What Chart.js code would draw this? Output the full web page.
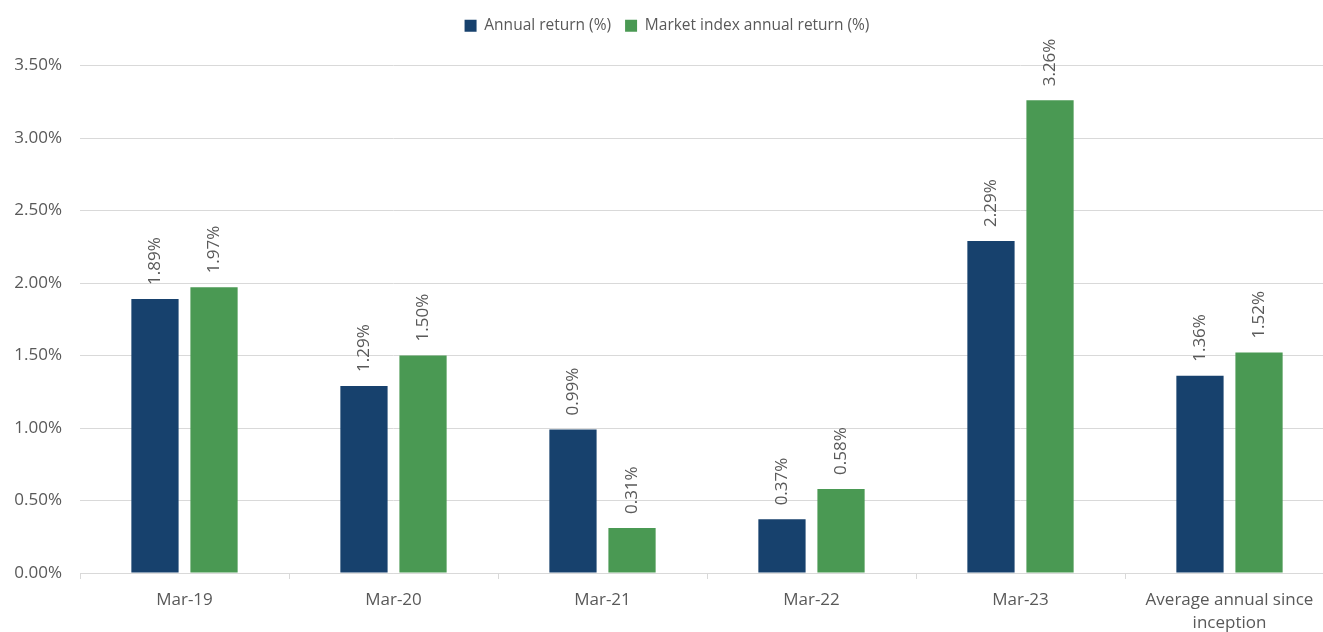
<!DOCTYPE html>
<html>
<head>
<meta charset="utf-8">
<script src="https://cdn.jsdelivr.net/npm/chart.js@4/dist/chart.umd.min.js"></script>
<style>
  body { margin: 0; background: #fff; overflow: hidden; }
  #wrap { width: 1336px; height: 632px; }
</style>
</head>
<body>
<div id="wrap"><canvas id="returnsChart" width="1336" height="632"></canvas></div>
<script>
const categories = ['Mar-19', 'Mar-20', 'Mar-21', 'Mar-22', 'Mar-23', ['Average annual since', 'inception']];
const annualReturn = [1.89, 1.29, 0.99, 0.37, 2.29, 1.36];
const marketReturn = [1.97, 1.50, 0.31, 0.58, 3.26, 1.52];
const seriesNames = ['Annual return (%)', 'Market index annual return (%)'];

const FONT = '"Open Sans", Lato, sans-serif';
const GREY = '#595959';

// rotated value labels above each bar
const barLabels = {
  id: 'barLabels',
  afterInit(chart) {
    // extra room under the legend so the plot starts lower
    const lg = chart.legend;
    if (lg) {
      const fit = lg.fit;
      lg.fit = function () { fit.call(this); this.height += 22; };
    }
  },
  afterDatasetsDraw(chart) {
    const ctx = chart.ctx;
    ctx.save();
    ctx.font = '17px ' + FONT;
    ctx.fillStyle = GREY;
    ctx.textAlign = 'left';
    ctx.textBaseline = 'middle';
    chart.data.datasets.forEach((ds, i) => {
      chart.getDatasetMeta(i).data.forEach((bar, j) => {
        ctx.save();
        ctx.translate(bar.x, bar.y - 14);
        ctx.rotate(-Math.PI / 2);
        ctx.fillText(ds.data[j].toFixed(2) + '%', 0, 0);
        ctx.restore();
      });
    });
    ctx.restore();
  }
};

new Chart(document.getElementById('returnsChart'), {
  type: 'bar',
  data: {
    labels: categories,
    datasets: [{
      label: seriesNames[0],
      data: annualReturn,
      backgroundColor: '#17416D',
      categoryPercentage: 0.565,
      barPercentage: 0.8
    }, {
      label: seriesNames[1],
      data: marketReturn,
      backgroundColor: '#4A9953',
      categoryPercentage: 0.565,
      barPercentage: 0.8
    }]
  },
  options: {
    responsive: false,
    animation: false,
    layout: { padding: { top: 4, right: 2, bottom: 0, left: 0 } },
    plugins: {
      legend: {
        display: true,
        position: 'top',
        labels: { boxWidth: 12, boxHeight: 12, color: GREY, font: { family: FONT, size: 15.5 }, padding: 14 }
      },
      tooltip: { enabled: false }
    },
    scales: {
      x: {
        grid: { display: true, drawOnChartArea: false, drawTicks: true, tickLength: 6, color: '#d9d9d9', offset: true },
        border: { display: true, color: '#d9d9d9' },
        ticks: { color: GREY, font: { family: FONT, size: 17, lineHeight: 1.35 }, padding: 10, maxRotation: 0, autoSkip: false },
        afterFit(scale) { scale.height = 59; }
      },
      y: {
        min: 0, max: 3.5,
        grid: { color: '#d9d9d9', drawTicks: false },
        border: { display: false },
        ticks: {
          stepSize: 0.5, color: GREY, font: { family: FONT, size: 17 }, padding: 18,
          callback: v => v.toFixed(2) + '%'
        },
        afterFit(scale) { scale.width = 80; }
      }
    }
  },
  plugins: [barLabels]
});
</script>
</body>
</html>
